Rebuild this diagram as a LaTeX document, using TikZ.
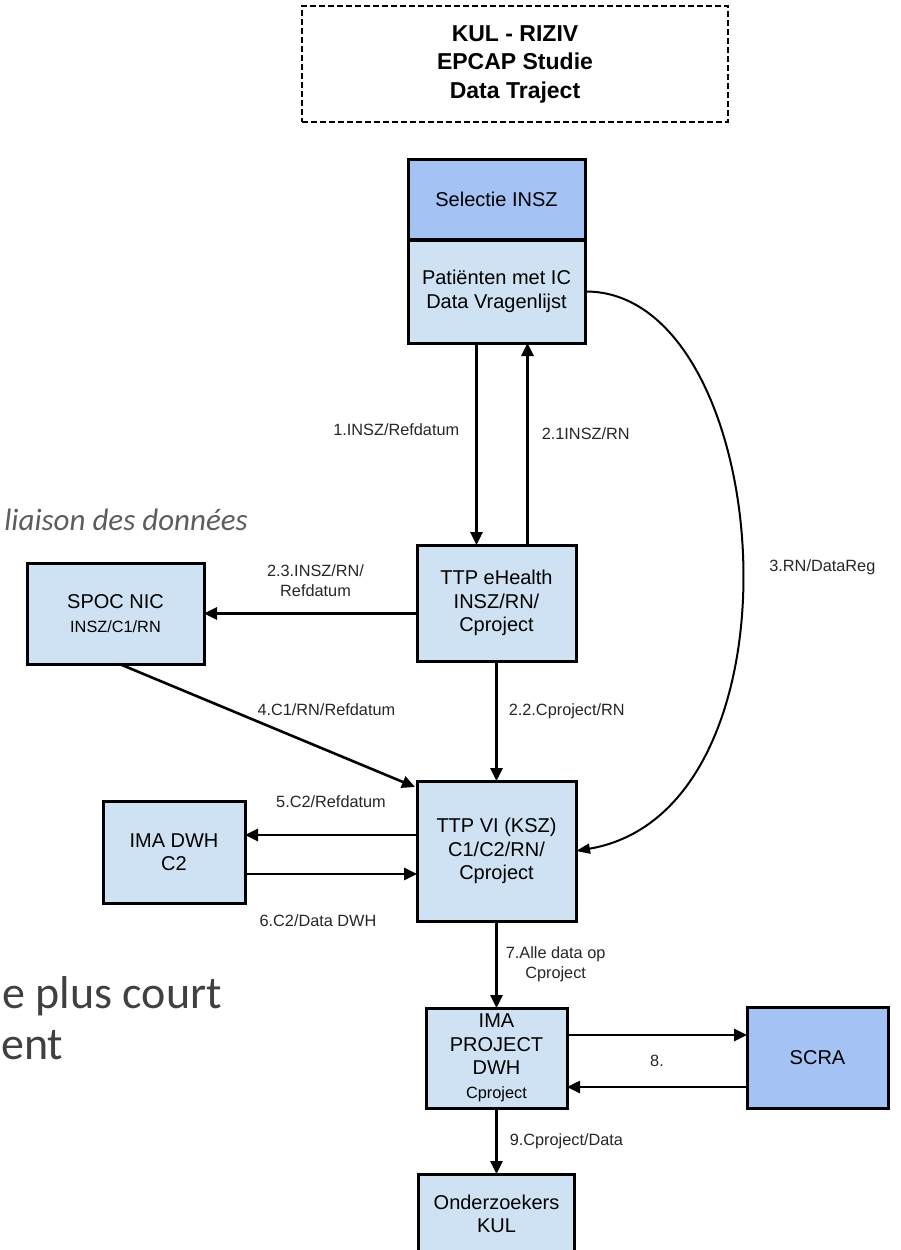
\documentclass[tikz,border=0pt]{standalone}
\usepackage{fontspec}
\setmainfont{Liberation Sans}
\newfontfamily\calib{Carlito}
\usetikzlibrary{arrows.meta,positioning}
\definecolor{lichtblauw}{HTML}{CFE2F3}
\definecolor{blauw}{HTML}{A4C2F4}
\definecolor{grijs}{HTML}{404040}
\newcommand{\grtxt}{\fontsize{20}{23.5}\selectfont}
\newcommand{\kltxt}{\fontsize{16.3}{19.5}\selectfont}
\tikzstyle{stap}=[rectangle,draw=black,line width=3pt,fill=lichtblauw,align=center,inner sep=0pt,outer sep=0pt,font=\grtxt]
\tikzstyle{bron}=[stap,fill=blauw]
\tikzstyle{kop}=[rectangle,draw=black,line width=1.2pt,dash pattern=on 6pt off 3pt,align=center,font=\bfseries\fontsize{23}{28.5}\selectfont]
\tikzstyle{pijl}=[line width=2.6pt,-{Triangle[length=13pt,width=12pt]}]
\tikzstyle{lbl}=[font=\kltxt,align=center,inner sep=0pt,text=black!85]
\tikzstyle{achter}=[inner sep=0pt,text=grijs,anchor=base east]

\begin{document}
\begin{tikzpicture}[x=1pt,y=-1pt]
    \useasboundingbox (0,0) rectangle (900,1250);

    \node[kop,minimum width=426pt,minimum height=116pt] (kop) at (515,64) {KUL - RIZIV\\EPCAP Studie\\Data Traject};

    % column in the middle
    \node[bron,minimum width=177pt,minimum height=80pt] (sel) at (496.5,199) {Selectie INSZ};
    \node[stap,minimum width=177pt,minimum height=103pt] (pat) [below=1pt of sel] {Patiënten met IC\\Data Vragenlijst};
    \node[stap,minimum width=159pt,minimum height=116pt] (eh) [below=202pt of pat] {TTP eHealth\\INSZ/RN/\\Cproject};
    \node[stap,minimum width=159pt,minimum height=140pt] (vi) [below=120pt of eh] {TTP VI (KSZ)\\C1/C2/RN/\\Cproject};
    \node[stap,minimum width=141pt,minimum height=100pt] (proj) [below=87pt of vi] {IMA\\PROJECT\\DWH\\{\kltxt Cproject}};
    \node[stap,minimum width=156pt,minimum height=80pt] (ond) [below=66pt of proj] {Onderzoekers\\KUL};

    % side boxes
    \node[stap,minimum width=177pt,minimum height=101pt] (spoc) [left=213pt of eh,yshift=-10.5pt] {SPOC NIC\\{\kltxt INSZ/C1/RN}};
    \node[stap,minimum width=142pt,minimum height=102pt] (imadwh) [left=172pt of vi,yshift=-1pt] {IMA DWH\\C2};
    \node[bron,minimum width=141pt,minimum height=101pt] (scra) [right=180pt of proj] {SCRA};

    % text from the page behind
    \node[achter,font=\calib\itshape\fontsize{31}{36}\selectfont,text=grijs!85] (liaison) at (248,530) {liaison des données};
    \node[achter,font=\calib\fontsize{46}{51}\selectfont] (court) at (222,1008) {e plus court};
    \node[achter,font=\calib\fontsize{46}{51}\selectfont,anchor=base west] (ent) at (1,1059) {ent};

    \draw[pijl] ([xshift=-20pt]pat.south) -- node[lbl,pos=0.43,left=16pt] {1.INSZ/Refdatum} ([xshift=-20pt]eh.north);
    \draw[pijl] ([xshift=31pt]eh.north) -- node[lbl,pos=0.55,right=13pt] {2.1INSZ/RN} ([xshift=31pt]pat.south);
    \draw[pijl] (eh.west |- spoc.east) -- node[lbl,midway,above=16pt,xshift=5pt] {2.3.INSZ/RN/\\Refdatum} (spoc.east);
    \draw[pijl] (eh) -- node[lbl,pos=0.42,right=11pt] {2.2.Cproject/RN} (vi);
    \draw[pijl] ([xshift=4pt]spoc.south) -- node[lbl,pos=0.7,yshift=40pt] {4.C1/RN/Refdatum} ([xshift=-2pt,yshift=-6pt]vi.north west);
    \draw[line width=2pt,-{Triangle[length=14pt,width=10pt]}] (pat.east) .. controls (775,290) and (815,810) .. (vi.east)
        node[lbl,pos=0.5,right=27pt,yshift=-12pt] {3.RN/DataReg};
    \draw[pijl] ([yshift=16pt]vi.west) -- node[lbl,midway,above=26pt] {5.C2/Refdatum} ([yshift=16pt]vi.west -| imadwh.east);
    \draw[pijl] ([yshift=-23pt]vi.west -| imadwh.east) -- node[lbl,midway,below=39pt,xshift=-13pt] {6.C2/Data DWH} ([yshift=-23pt]vi.west);
    \draw[pijl] (vi) -- node[lbl,midway,right=8pt] {7.Alle data op\\Cproject} (proj);
    \draw[pijl] ([yshift=23pt]proj.east) -- node[lbl,midway,below=19pt] {8.} ([yshift=23pt]proj.east -| scra.west);
    \draw[pijl] ([yshift=-29pt]scra.west) -- ([yshift=-29pt]scra.west -| proj.east);
    \draw[pijl] (proj) -- node[lbl,midway,right=12pt] {9.Cproject/Data} (ond);

\end{tikzpicture}
\end{document}
